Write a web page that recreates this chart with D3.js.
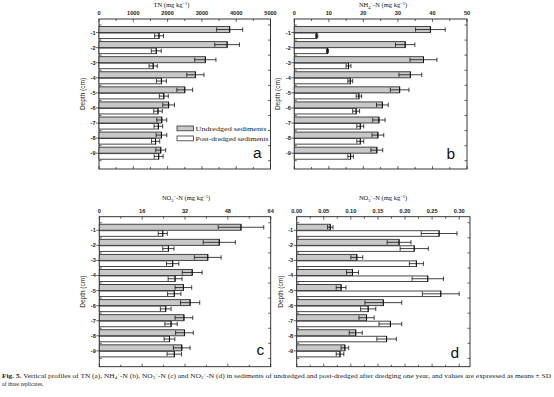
<!DOCTYPE html>
<html><head><meta charset="utf-8">
<script src="https://cdn.jsdelivr.net/npm/d3@7"></script>
<style>body{margin:0;background:#fff}svg{display:block}</style>
</head><body>
<svg id="chart" width="554" height="397"></svg>
<script>
// ---------- DATA ----------
const depths = ["-1","-2","-3","-4","-5","-6","-7","-8","-9"];
const seriesNames = ["Undredged sediments","Post-dredged sediments"];

const tnUnd    = [3810,3735,3100,2810,2500,2030,1830,1820,1800];
const tnUndSD  = [380, 360, 310, 250, 230, 170, 145, 155, 145];
const tnPost   = [1750,1670,1580,1820,1890,1720,1730,1650,1740];
const tnPostSD = [130, 145, 120, 145, 130, 125, 125, 120, 130];
const tnTicks  = [0,1000,2000,3000,4000,5000];

const nhUnd    = [39.4,32.1,37.4,33.6,30.5,25.5,24.5,24.2,23.9];
const nhUndSD  = [4.3, 2.8, 3.9, 3.3, 2.7, 1.7, 1.8, 1.7, 1.7];
const nhPost   = [6.5, 9.6, 15.7,16.2,18.7,17.9,19.1,19.1,16.3];
const nhPostSD = [0.3, 0.3, 0.7, 0.7, 0.8, 1.0, 1.0, 1.0, 0.8];
const nhTicks  = [0,10,20,30,40,50];

const no3Und    = [52.9,44.8,40.5,34.7,31.4,33.9,31.6,31.8,30.8];
const no3UndSD  = [8.5, 6.0, 5.0, 3.7, 3.1, 3.6, 3.3, 3.3, 3.1];
const no3Post   = [23.7,25.8,27.4,28.3,28.0,24.8,26.8,26.2,28.0];
const no3PostSD = [1.7, 2.1, 2.3, 2.6, 2.5, 2.0, 2.3, 2.0, 2.7];
const no3Ticks  = [0,16,32,48,64];

const no2Und    = [0.062,0.189,0.111,0.103,0.082,0.160,0.129,0.109,0.089];
const no2UndSD  = [0.005,0.022,0.011,0.011,0.009,0.034,0.014,0.012,0.007];
const no2Post   = [0.263,0.217,0.221,0.242,0.266,0.132,0.173,0.166,0.080];
const no2PostSD = [0.033,0.026,0.013,0.029,0.034,0.014,0.021,0.018,0.007];
const no2Ticks  = [0,0.05,0.10,0.15,0.20,0.25,0.30];

// ---------- LAYOUT ----------
const svg = d3.select("#chart");
const SANS = "'Liberation Sans', Arial, sans-serif";
const SERIF = "'Liberation Serif', 'Times New Roman', serif";
const GREY = "#c8c8c8";

const panels = [
  {letter:"a", und:tnUnd, undSD:tnUndSD, post:tnPost, postSD:tnPostSD, ticks:tnTicks, dom:[0,5000], fmt:d3.format("d"),
   x0:99, x1:270.5, y0:19, y1:169, title:[["TN (mg kg",0],["−1",1],[")",0]], titleX:171.5, titleY:7, titleW:26,
   letterX:253, letterY:157.5, legend:true},
  {letter:"b", und:nhUnd, undSD:nhUndSD, post:nhPost, postSD:nhPostSD, ticks:nhTicks, dom:[0,50], fmt:d3.format("d"),
   x0:294.3, x1:467, y0:19, y1:169, title:[["NH",0],["4",-1],["+",1],["-N (mg kg",0],["−1",1],[")",0]], titleX:383, titleY:7, titleW:53,
   letterX:446.5, letterY:159},
  {letter:"c", und:no3Und, undSD:no3UndSD, post:no3Post, postSD:no3PostSD, ticks:no3Ticks, dom:[0,64], fmt:d3.format("d"),
   x0:99.3, x1:270.7, y0:216.7, y1:366.7, title:[["NO",0],["3",-1],["−",1],["-N (mg kg",0],["−1",1],[")",0]], titleX:186, titleY:200, titleW:48,
   letterX:256.5, letterY:355},
  {letter:"d", und:no2Und, undSD:no2UndSD, post:no2Post, postSD:no2PostSD, ticks:no2Ticks, dom:[0,0.32], fmt:d3.format(".2f"),
   x0:296.7, x1:470, y0:216.7, y1:366.7, title:[["NO",0],["2",-1],["−",1],["-N (mg kg",0],["−1",1],[")",0]], titleX:383, titleY:200, titleW:48,
   letterX:450.5, letterY:357.5}
];

panels.forEach(p => {
  const g = svg.append("g");
  const x = d3.scaleLinear().domain(p.dom).range([p.x0, p.x1]);
  const y = d3.scaleLinear().domain([0.1, 10.05]).range([p.y0, p.y1]);
  const dnum = depths.map(d => Math.abs(+d));

  // frame
  g.append("rect").attr("x", p.x0).attr("y", p.y0).attr("width", p.x1 - p.x0).attr("height", p.y1 - p.y0)
    .attr("fill", "none").attr("stroke", "#222").attr("stroke-width", 0.9);

  // top axis (ticks inward) and labels
  const step = p.ticks[1] - p.ticks[0];
  const minor = p.ticks.slice(0, -1).map(t => t + step / 2).concat(
      p.dom[1] > p.ticks[p.ticks.length-1] + step/2 - 1e-9 ? [p.ticks[p.ticks.length-1] + step/2] : []);
  [p.y0, p.y1].forEach((yy, i) => {
    const dir = i === 0 ? 1 : -1;
    g.selectAll(null).data(p.ticks).enter().append("line")
      .attr("x1", d => x(d)).attr("x2", d => x(d)).attr("y1", yy).attr("y2", yy + dir * 3)
      .attr("stroke", "#222").attr("stroke-width", 0.7);
    g.selectAll(null).data(minor).enter().append("line")
      .attr("x1", d => x(d)).attr("x2", d => x(d)).attr("y1", yy).attr("y2", yy + dir * 2)
      .attr("stroke", "#222").attr("stroke-width", 0.7);
  });
  g.selectAll(null).data(p.ticks).enter().append("text")
    .attr("x", d => x(d)).attr("y", p.y0 - 4).attr("text-anchor", "middle")
    .attr("font-family", SANS).attr("font-size", 5.6).attr("font-weight", "bold").attr("fill", "#222")
    .text(d => p.fmt(d));

  // left axis: labelled ticks outward, half ticks inward; right axis ticks inward
  g.selectAll(null).data(dnum).enter().append("line")
    .attr("x1", p.x0 - 3).attr("x2", p.x0).attr("y1", d => y(d)).attr("y2", d => y(d))
    .attr("stroke", "#222").attr("stroke-width", 0.7);
  const halves = d3.range(0.5, 10.01, 1);
  g.selectAll(null).data(halves).enter().append("line")
    .attr("x1", p.x0).attr("x2", p.x0 + 2.5).attr("y1", d => y(d)).attr("y2", d => y(d))
    .attr("stroke", "#222").attr("stroke-width", 0.7);
  g.selectAll(null).data(halves).enter().append("line")
    .attr("x1", p.x1).attr("x2", p.x1 - 2.5).attr("y1", d => y(d)).attr("y2", d => y(d))
    .attr("stroke", "#222").attr("stroke-width", 0.7);
  g.selectAll(null).data(depths).enter().append("text")
    .attr("x", p.x0 - 3.5).attr("y", (d) => y(Math.abs(+d)) + 2).attr("text-anchor", "end")
    .attr("font-family", SANS).attr("font-size", 5.6).attr("font-weight", "bold").attr("fill", "#222")
    .text(d => d);

  // y label
  const ymid = (p.y0 + p.y1) / 2;
  g.append("text").attr("transform", `translate(${p.x0 - 14},${ymid}) rotate(-90)`)
    .attr("text-anchor", "middle").attr("font-family", SANS).attr("font-size", 6.5).attr("fill", "#222")
    .text("Depth (cm)");

  // title
  const t = g.append("text").attr("x", p.titleX).attr("y", p.titleY).attr("text-anchor", "middle")
    .attr("font-family", SERIF).attr("font-size", 6.5).attr("fill", "#111");
  p.title.forEach(([s, sh]) => {
    const ts = t.append("tspan").text(s);
    if (sh !== 0) ts.attr("font-size", 4.5).attr("dy", sh > 0 ? -2.5 : 1.5);
    else ts.attr("dy", 0);
  });
  // fix baselines after shifted tspans
  t.selectAll("tspan").each(function(_, i, nodes) {
    const cur = p.title[i][1], prev = i > 0 ? p.title[i-1][1] : 0;
    const off = (v) => v > 0 ? -2.5 : (v < 0 ? 1.5 : 0);
    d3.select(this).attr("dy", off(cur) - off(prev));
  });

  // bars
  const bh = 0.4;
  const rows = dnum.map((d, i) => ({d, u: p.und[i], us: p.undSD[i], v: p.post[i], vs: p.postSD[i]}));
  g.selectAll(null).data(rows).enter().append("rect")
    .attr("x", x(0)).attr("y", r => y(r.d - bh)).attr("width", r => x(r.u) - x(0)).attr("height", r => y(r.d) - y(r.d - bh))
    .attr("fill", GREY).attr("stroke", "#333").attr("stroke-width", 0.9);
  g.selectAll(null).data(rows).enter().append("rect")
    .attr("x", x(0)).attr("y", r => y(r.d + 0.03)).attr("width", r => x(r.v) - x(0)).attr("height", r => y(r.d + bh) - y(r.d + 0.03))
    .attr("fill", "#fff").attr("stroke", "#333").attr("stroke-width", 0.9);

  // error bars
  const err = (val, sd, yc) => {
    g.append("line").attr("x1", x(val - sd)).attr("x2", x(val + sd)).attr("y1", yc).attr("y2", yc)
      .attr("stroke", "#111").attr("stroke-width", 0.8);
    [val - sd, val + sd, val].forEach((v, k) => {
      g.append("line").attr("x1", x(v)).attr("x2", x(v)).attr("y1", yc - (k < 2 ? 2.2 : 3)).attr("y2", yc + (k < 2 ? 2.2 : 3))
        .attr("stroke", "#111").attr("stroke-width", k < 2 ? 0.8 : 1);
    });
  };
  rows.forEach(r => {
    err(r.u, r.us, y(r.d - bh / 2));
    err(r.v, r.vs, y(r.d + bh / 2 + 0.015));
  });

  // panel letter
  g.append("text").attr("x", p.letterX).attr("y", p.letterY).attr("font-family", SANS)
    .attr("font-size", 15.5).attr("fill", "#111").text(p.letter);

  // legend
  if (p.legend) {
    const lg = g.append("g");
    seriesNames.forEach((name, i) => {
      const ly = 126 + i * 10;
      lg.append("rect").attr("x", 177).attr("y", ly).attr("width", 16.5).attr("height", 4.8)
        .attr("fill", i === 0 ? GREY : "#fff").attr("stroke", "#333").attr("stroke-width", 0.8);
      lg.append("text").attr("x", 195.5).attr("y", ly + 4.6).attr("font-family", SERIF).attr("font-size", 6.8)
        .attr("fill", "#222").attr("textLength", i === 0 ? 71 : 73).attr("lengthAdjust", "spacingAndGlyphs").text(name);
    });
  }
});

// caption
const cap = svg.append("text").attr("x", 2).attr("y", 377.5).attr("font-family", SERIF).attr("font-size", 5.6).attr("fill", "#222")
  .attr("textLength", 549).attr("lengthAdjust", "spacingAndGlyphs");
const capParts = [
  ["Fig. 5.", "b", 0], ["  Vertical profiles of TN (a), NH", "", 0], ["4", "", -1], ["+", "", 1], ["-N (b), NO", "", 0],
  ["3", "", -1], ["−", "", 1], ["-N (c) and NO", "", 0], ["2", "", -1], ["−", "", 1],
  ["-N (d) in sediments of undredged and post-dredged after dredging one year, and values are expressed as means ± SD", "", 0]
];
let prevOff = 0;
capParts.forEach(([s, w, sh]) => {
  const off = sh > 0 ? -1.8 : (sh < 0 ? 1.2 : 0);
  const ts = cap.append("tspan").text(s).attr("dy", off - prevOff);
  if (w === "b") ts.attr("font-weight", "bold");
  if (sh !== 0) ts.attr("font-size", 3.8);
  prevOff = off;
});
svg.append("text").attr("x", 2).attr("y", 385.5).attr("font-family", SERIF).attr("font-size", 5.6).attr("fill", "#222")
  .text("of three replicates.");
</script>
</body></html>
